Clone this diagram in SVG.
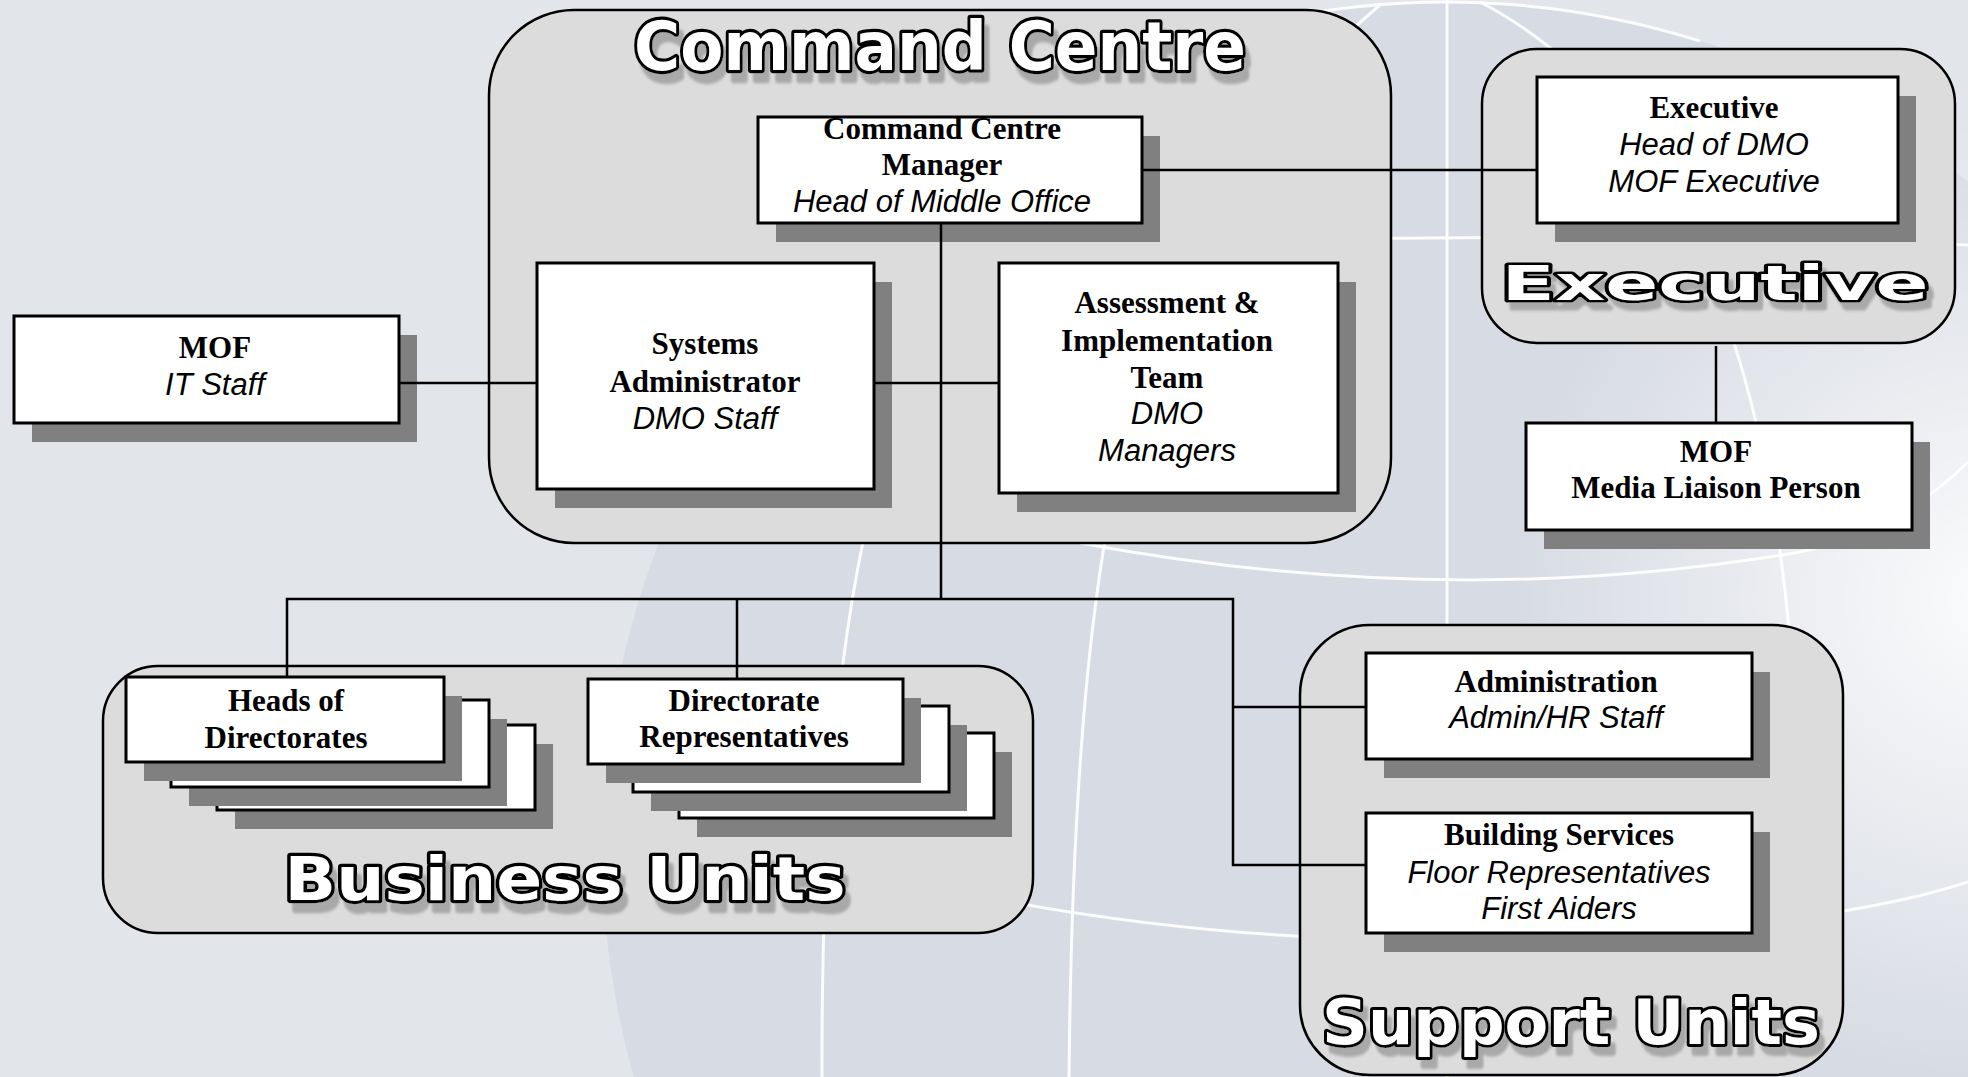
<svg xmlns="http://www.w3.org/2000/svg" width="1968" height="1077" viewBox="0 0 1968 1077">
<defs>
<style>
.box{fill:#fff;stroke:#000;stroke-width:3}
.shd{fill:#808080}
.cont{fill:#dcdcdc;stroke:#000;stroke-width:2.5}
.b{font-family:"Liberation Serif","Times New Roman",serif;font-weight:bold;font-size:31px;text-anchor:middle;fill:#000}
.i{font-family:"Liberation Sans",Arial,sans-serif;font-style:italic;font-size:31px;text-anchor:middle;fill:#000}
.conn{stroke:#000;stroke-width:2.5;fill:none}
.bgl{stroke:#fff;stroke-width:3;fill:none;opacity:.9}
.tt{font-family:"DejaVu Sans","Liberation Sans",sans-serif;font-weight:bold;text-anchor:middle;fill:#fff;stroke:#000;stroke-width:4.5;stroke-linejoin:round;paint-order:stroke;filter:url(#tsh)}
</style>
<filter id="tsh" x="-5%" y="-30%" width="115%" height="180%">
<feGaussianBlur in="SourceAlpha" stdDeviation="1.2"/>
<feOffset dx="5" dy="7" result="o"/>
<feFlood flood-color="#a9a9a9"/>
<feComposite in2="o" operator="in" result="s"/>
<feMerge><feMergeNode in="s"/><feMergeNode in="SourceGraphic"/></feMerge>
</filter>
<radialGradient id="hl" cx="1990" cy="600" r="480" gradientUnits="userSpaceOnUse">
<stop offset="0" stop-color="#ffffff" stop-opacity="0.9"/>
<stop offset="1" stop-color="#ffffff" stop-opacity="0"/>
</radialGradient>
</defs>

<g id="background">
<rect x="0" y="0" width="1968" height="1077" fill="#e2e5ea"/>
<circle cx="1447" cy="847" r="845" fill="#d7dbe3"/>
<rect x="1300" y="0" width="668" height="1077" fill="url(#hl)"/>
<path class="bgl" d="M1260 23 A845 845 0 0 1 1700 41"/>
<path class="bgl" d="M1447 0 L1447 1077"/>
<path class="bgl" d="M1380 5 C1150 200 1075 450 1069 1077"/>
<path class="bgl" d="M1340 15 C950 120 820 380 822 1077"/>
<path class="bgl" d="M1480 2 C1650 90 1760 300 1790 640"/>
<path class="bgl" d="M1000 250 Q1450 228 1968 245"/>
<path class="bgl" d="M1080 543 Q1450 612 1800 552 Q1900 530 1968 462"/>
<path class="bgl" d="M1000 900 Q1400 975 1844 911 Q1920 898 1968 882"/>
</g>

<g id="containers">
<g id="cont-command-centre">
<rect class="cont" x="489" y="10" width="902" height="533" rx="85" ry="85"/>
<g transform="translate(940,70) scale(1,1.4)">
<text class="tt" x="0" y="0" font-size="48" textLength="612" lengthAdjust="spacingAndGlyphs">Command Centre</text>
</g>
</g>
<g id="cont-executive">
<rect class="cont" x="1482" y="49" width="473" height="294" rx="55" ry="55"/>
<g transform="translate(1715,300) scale(1,1.15)">
<text class="tt" x="0" y="0" font-size="42" textLength="427" lengthAdjust="spacingAndGlyphs">Executive</text>
</g>
</g>
<g id="cont-business-units">
<rect class="cont" x="103" y="666" width="930" height="267" rx="55" ry="55"/>
<g transform="translate(565,900) scale(1,1.4)">
<text class="tt" x="0" y="0" font-size="43" textLength="561" lengthAdjust="spacingAndGlyphs">Business Units</text>
</g>
</g>
<g id="cont-support-units">
<rect class="cont" x="1300" y="625" width="543" height="450" rx="70" ry="70"/>
<g transform="translate(1571,1044) scale(1,1.3)">
<text class="tt" x="0" y="0" font-size="48" textLength="498" lengthAdjust="spacingAndGlyphs">Support Units</text>
</g>
</g>
</g>

<g id="node-ccm">
<rect class="shd" x="776" y="136" width="384" height="106"/>
<rect class="box" x="758" y="117" width="384" height="106"/>
<text class="b" x="942" y="139">Command Centre</text>
<text class="b" x="942" y="175">Manager</text>
<text class="i" x="942" y="212">Head of Middle Office</text>
</g>

<g id="node-executive">
<rect class="shd" x="1555" y="96" width="361" height="146"/>
<rect class="box" x="1537" y="77" width="361" height="146"/>
<text class="b" x="1714" y="118">Executive</text>
<text class="i" x="1714" y="155">Head of DMO</text>
<text class="i" x="1714" y="192">MOF Executive</text>
</g>

<g id="node-media">
<rect class="shd" x="1544" y="442" width="386" height="107"/>
<rect class="box" x="1526" y="423" width="386" height="107"/>
<text class="b" x="1716" y="462">MOF</text>
<text class="b" x="1716" y="498">Media Liaison Person</text>
</g>

<g id="node-mof-it">
<rect class="shd" x="32" y="335" width="385" height="107"/>
<rect class="box" x="14" y="316" width="385" height="107"/>
<text class="b" x="215" y="358">MOF</text>
<text class="i" x="215" y="395">IT Staff</text>
</g>

<g id="node-sysadmin">
<rect class="shd" x="555" y="282" width="337" height="226"/>
<rect class="box" x="537" y="263" width="337" height="226"/>
<text class="b" x="705" y="354">Systems</text>
<text class="b" x="705" y="392">Administrator</text>
<text class="i" x="705" y="429">DMO Staff</text>
</g>

<g id="node-assessment">
<rect class="shd" x="1017" y="282" width="339" height="230"/>
<rect class="box" x="999" y="263" width="339" height="230"/>
<text class="b" x="1167" y="313">Assessment &amp;</text>
<text class="b" x="1167" y="351">Implementation</text>
<text class="b" x="1167" y="388">Team</text>
<text class="i" x="1167" y="424">DMO</text>
<text class="i" x="1167" y="461">Managers</text>
</g>

<g id="node-heads">
<rect class="shd" x="235" y="744" width="318" height="85"/>
<rect class="box" x="217" y="725" width="318" height="85"/>
<rect class="shd" x="189" y="719" width="318" height="87"/>
<rect class="box" x="171" y="700" width="318" height="87"/>
<rect class="shd" x="144" y="696" width="318" height="85"/>
<rect class="box" x="126" y="677" width="318" height="85"/>
<text class="b" x="286" y="711">Heads of</text>
<text class="b" x="286" y="748">Directorates</text>
</g>

<g id="node-dirreps">
<rect class="shd" x="697" y="752" width="315" height="85"/>
<rect class="box" x="679" y="733" width="315" height="85"/>
<rect class="shd" x="651" y="725" width="316" height="86"/>
<rect class="box" x="633" y="706" width="316" height="86"/>
<rect class="shd" x="606" y="698" width="315" height="85"/>
<rect class="box" x="588" y="679" width="315" height="85"/>
<text class="b" x="744" y="711">Directorate</text>
<text class="b" x="744" y="747">Representatives</text>
</g>

<g id="node-admin">
<rect class="shd" x="1384" y="672" width="386" height="106"/>
<rect class="box" x="1366" y="653" width="386" height="106"/>
<text class="b" x="1556" y="692">Administration</text>
<text class="i" x="1556" y="728">Admin/HR Staff</text>
</g>

<g id="node-building">
<rect class="shd" x="1384" y="832" width="386" height="120"/>
<rect class="box" x="1366" y="813" width="386" height="120"/>
<text class="b" x="1559" y="845">Building Services</text>
<text class="i" x="1559" y="883">Floor Representatives</text>
<text class="i" x="1559" y="919">First Aiders</text>
</g>

<g id="connectors">
<path class="conn" d="M399 383 H537"/>
<path class="conn" d="M874 383 H999"/>
<path class="conn" d="M1142 170 H1537"/>
<path class="conn" d="M941 223 V599"/>
<path class="conn" d="M287 677 V599 H1233 V865 H1366"/>
<path class="conn" d="M737 599 V679"/>
<path class="conn" d="M1233 707 H1366"/>
<path class="conn" d="M1716 346 V423"/>
</g>
</svg>
